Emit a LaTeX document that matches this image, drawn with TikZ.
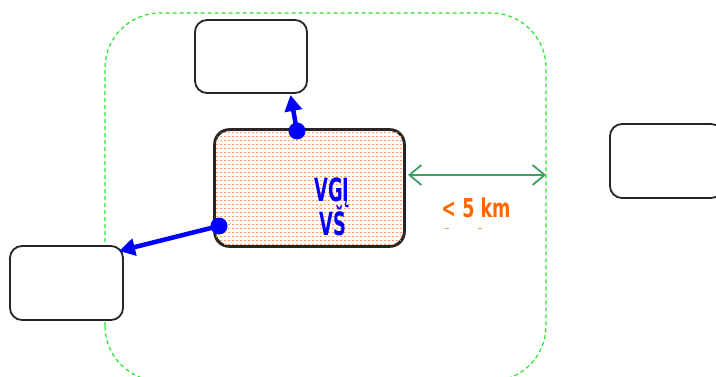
\documentclass[tikz,border=0pt]{standalone}
\usepackage{fontspec}
\setmainfont{Liberation Sans}
\newfontfamily\condfont{DejaVu Sans Condensed}
\usetikzlibrary{arrows.meta}
\definecolor{zonegreen}{RGB}{40,230,40}
\definecolor{arrgreen}{RGB}{60,160,100}
\definecolor{txtorange}{RGB}{255,102,0}
\definecolor{dotorange}{RGB}{255,150,90}
\begin{document}
\begin{tikzpicture}[x=1pt,y=1pt,
  box/.style={draw=black!85,line width=1.8pt,rounded corners=12pt,minimum width=112pt,minimum height=73pt,inner sep=0pt,fill=white},
  bluearr/.style={draw=blue,line width=4.5pt,-{Triangle[length=16pt,width=17pt]}},
  bluedot/.style={fill=blue,circle,inner sep=0pt,minimum size=17pt},
  lbl/.style={inner sep=0pt}]
\useasboundingbox (0,0) rectangle (716,376);
\clip (0,0) rectangle (716,376);
% zone
\draw[zonegreen,line width=1.2pt,dash pattern=on 4pt off 3pt,rounded corners=55pt] (105,-5) rectangle (546,363);
\coordinate (zoneE) at (546,201);
% boxes
\node[box] (top) at (251,319.5) {};
\node[box,minimum width=113pt,minimum height=74pt] (left) at (66.5,93) {};
\node[box,minimum width=113pt,minimum height=74pt] (right) at (666.5,215) {};
\node[box,minimum width=189pt,minimum height=116pt,rounded corners=15pt] (vgi) at (309.5,188) {};
\begin{scope}
  \clip[rounded corners=15pt] (vgi.south west) rectangle (vgi.north east);
  \foreach \i in {0,...,48} {
    \foreach \j in {0,...,30} {
      \fill[dotorange] (216+4*\i,131+4*\j) rectangle +(1.5,1.5);
    }
  }
\end{scope}
\draw[black!85,line width=1.8pt,rounded corners=15pt] (vgi.south west) rectangle (vgi.north east);
% text
\node[lbl,text=blue,font=\condfont\bfseries\fontsize{32}{32}\selectfont] (t1) at (332,183) {\scalebox{0.62}[1]{VGĮ}};
\node[lbl,text=blue,font=\condfont\bfseries\fontsize{32}{32}\selectfont] (t2) at (333,155) {\scalebox{0.62}[1]{VŠ}};
\node[lbl,text=txtorange,font=\condfont\bfseries\fontsize{26}{26}\selectfont] (km) at (476,168) {\scalebox{0.75}[1]{< 5 km}};
\coordinate (m1) at (447,148);
\coordinate (m2) at (480,148);
\draw[txtorange!70,line width=0.8pt] ([xshift=-2pt]m1) -- ([xshift=2pt]m1);
\draw[txtorange!70,line width=0.8pt] ([xshift=-2pt]m2) -- ([xshift=2pt]m2);
% green distance arrow
\coordinate (gs) at (408,201);
\draw[arrgreen,line width=1.8pt,{Straight Barb[length=12pt,width=20pt]}-{Straight Barb[length=12pt,width=20pt]}] (gs) -- (zoneE);
% blue arrows
\node[bluedot] (d1) at (297,245) {};
\node[bluedot] (d2) at (219,150) {};
\coordinate (e1) at (290.5,281);
\coordinate (e2) at (119,125);
\draw[bluearr] (d1.center) -- (e1);
\draw[bluearr] (d2.center) -- (e2);
\end{tikzpicture}
\end{document}
